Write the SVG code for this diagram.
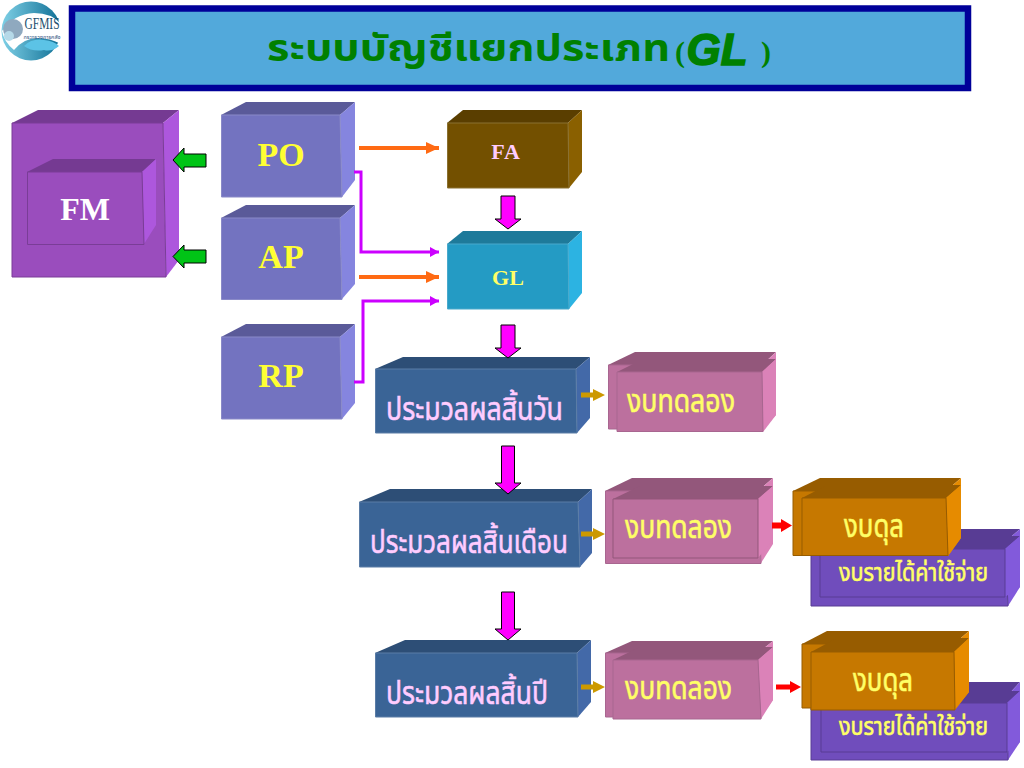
<svg xmlns="http://www.w3.org/2000/svg" width="1024" height="768" viewBox="0 0 1024 768">
<style>
text{font-family:"Liberation Serif","Noto Sans Thai","Noto Serif Thai","Noto Sans",serif;font-weight:700;text-anchor:middle}
.t{text-anchor:start;font-weight:400;stroke-width:.6}
.y{fill:#ffff33}.c{fill:#ffff66;stroke:#ffff66}.p{fill:#ffccff}.tp{stroke:#ffccff}
.vf{fill:#9a4dbd;stroke:#7a3d97}.vt{fill:#753a92}.vs{fill:#ad57dd}
.bf{fill:#7373c0;stroke:#8a8ac8}.bt{fill:#5a5a99}.bs{fill:#8585df}
.ff{fill:#735000;stroke:#8a7030}.ft{fill:#5a3e00}.fs{fill:#8a6000}
.gf{fill:#249bc4;stroke:#49a9cc}.gt{fill:#1e7a9a}.gs{fill:#2cb3e2}
.df{fill:#3a6496;stroke:#5a7ca6}.dt{fill:#2d4e76}.ds{fill:#4369a8}
.pf{fill:#bc709e;stroke:#a86690}.pn{fill:#bc709e;stroke:#93577b}.pt{fill:#93577b}.ps{fill:#db82b8}
.of{fill:#c67800;stroke:#975c00}.ot{fill:#975c00}.os{fill:#e68b00}
.uf{fill:#704dbc;stroke:#583c94}.ut{fill:#583c94}.us{fill:#825adb}
.mg{fill:#ff00ff;stroke:#000;stroke-width:1}
.gr{fill:#00c416;stroke:#000;stroke-width:1}
.ln{fill:none;stroke-width:4}
.lm{fill:none;stroke-width:3}
</style>
<defs>
<marker id="ao" markerUnits="userSpaceOnUse" markerWidth="14" markerHeight="14" refX="13" refY="6" orient="auto"><path d="M0 0L13 6L0 12Z" fill="#ff6a13"/></marker>
<marker id="am" markerUnits="userSpaceOnUse" markerWidth="12" markerHeight="12" refX="9" refY="5" orient="auto"><path d="M0 0L9 5L0 10Z" fill="#cc00ff"/></marker>
<linearGradient id="lg" x1="0" y1="0" x2="1" y2="0"><stop offset="0" stop-color="#7fd0e6"/><stop offset="1" stop-color="#0f6f95"/></linearGradient>
</defs>
<rect width="1024" height="768" fill="#fff"/>

<g id="logo">
<circle cx="31" cy="31" r="29.500" fill="url(#lg)"/>
<path d="M2 31Q14 14 34 13Q52 13 61 24V44Q50 38 38 38Q24 38 14 50Q4 42 2 31Z" fill="#fff"/>
<path d="M24 46Q32 38 44 40Q54 41 59 46Q52 52 44 50Q32 52 24 46Z" fill="#5cc3e6"/>
<circle cx="13" cy="29" r="10" fill="#8fa9bf"/>
<circle cx="9" cy="36" r="5" fill="#b5d9e8"/>
<text x="42" y="29" font-size="16" textLength="35" lengthAdjust="spacingAndGlyphs" fill="#1c4f6e" style="font-weight:400">GFMIS</text>
<text x="42" y="39" font-size="6" textLength="37" lengthAdjust="spacingAndGlyphs" fill="#2c4f7e" style="font-weight:400">กระทรวงการคลัง</text>
</g>

<g id="title">
<rect x="72" y="8.500" width="896" height="79.500" fill="#52a9db" stroke="#000099" stroke-width="6.500"/>
<text x="267" y="61" font-size="37" fill="#008000" class="t" style="font-weight:700" textLength="403" lengthAdjust="spacingAndGlyphs">ระบบบัญชีแยกประเภท</text>
<text x="680" y="62" font-size="30" fill="#008000">(</text>
<text x="717" y="65" font-size="44" fill="#008000" stroke="#008000" stroke-width="1.500" font-style="italic" style="font-family:'Liberation Sans',sans-serif">GL</text>
<text x="766" y="62" font-size="30" fill="#008000">)</text>
</g>

<g id="fm">
<polygon class="vt" points="12,123 38,110 179,110 163,123"/><polygon class="vs" points="163,123 179,110 179,260 166,277"/><polygon class="vf" points="12,123 163,123 166,277 12,277"/>
<polygon class="vt" points="27,172 53,159 156,159 142,172"/><polygon class="vs" points="142,172 156,159 156,225 144,244"/><polygon class="vf" points="27.500,172 142,172 144,244.500 27.500,244.500"/>
<text x="85" y="220" font-size="32" fill="#fff">FM</text>
</g>
<g id="po">
<polygon class="bt" points="221,115 246,102 355,102 340,115"/><polygon class="bs" points="340,115 355,102 355,180 342,197"/><polygon class="bf" points="221.500,115 340,115 342,197 221.500,197"/>
<text x="281" y="166" font-size="34" class="y">PO</text>
</g>
<g id="ap">
<polygon class="bt" points="221,218 246,205 355,205 340,218"/><polygon class="bs" points="340,218 355,205 355,284 342,299"/><polygon class="bf" points="221.500,218 340,218 342,299.500 221.500,299.500"/>
<text x="281" y="268" font-size="34" class="y">AP</text>
</g>
<g id="rp">
<polygon class="bt" points="221,337 246,324 355,324 340,337"/><polygon class="bs" points="340,337 355,324 355,403 342,419"/><polygon class="bf" points="221.500,337 340,337 342,419 221.500,419"/>
<text x="281" y="387" font-size="34" class="y">RP</text>
</g>
<g id="fa">
<polygon class="ft" points="447,123 463,110 582,110 568,123"/><polygon class="fs" points="568,123 582,110 582,172 569,188"/><polygon class="ff" points="447.500,123 568,123 569,188 447.500,188"/>
<text x="506" y="159" font-size="22" class="p" letter-spacing="1">FA</text>
</g>
<g id="gl">
<polygon class="gt" points="447,244 463,231 582,231 568,244"/><polygon class="gs" points="568,244 582,231 582,293 569,309"/><polygon class="gf" points="447.500,244 568,244 569,309 447.500,309"/>
<text x="508" y="285" font-size="22" fill="#ffff66">GL</text>
</g>
<g id="proc-day">
<polygon class="dt" points="375,369 403,357 590,357 576,369"/><polygon class="ds" points="576,369 590,357 590,418 577,433"/><polygon class="df" points="375.500,369 576,369 577,433 375.500,433"/>
<text x="386" y="420" font-size="32" class="t p tp" textLength="177" lengthAdjust="spacingAndGlyphs">ประมวลผลสิ้นวัน</text>
</g>
<g id="proc-month">
<polygon class="dt" points="359,502 390,489 592,489 578,502"/><polygon class="ds" points="578,502 592,489 592,553 580,567"/><polygon class="df" points="359.500,502 578,502 580,567 359.500,567"/>
<text x="370" y="553" font-size="32" class="t p tp" textLength="198" lengthAdjust="spacingAndGlyphs">ประมวลผลสิ้นเดือน</text>
</g>
<g id="proc-year">
<polygon class="dt" points="375,653 405,640 591,640 577,653"/><polygon class="ds" points="577,653 591,640 591,702 578,717"/><polygon class="df" points="375.500,653 577,653 578,717 375.500,717"/>
<text x="386" y="704" font-size="32" class="t p tp" textLength="162" lengthAdjust="spacingAndGlyphs">ประมวลผลสิ้นปี</text>
</g>
<g id="tb1">
<polygon class="pt" points="608,365 635,352 776,352 762,365"/><polygon class="ps" points="762,365 776,352 776,415 763,429"/><polygon class="pf" points="608.500,365 762,365 763,429 608.500,429"/>
<polygon class="pt" points="617,372 643,359 776,359 762,372"/><polygon class="ps" points="762,372 776,359 776,415 763,432"/><polygon class="pf" points="617,372 762,372 763,431.500 617,431.500"/>
<text x="627" y="412" font-size="32" class="t c" textLength="108" lengthAdjust="spacingAndGlyphs">งบทดลอง</text>
</g>
<g id="tb2">
<polygon class="pt" points="605,491 632,478 773,478 758,491"/><polygon class="ps" points="758,491 773,478 773,544 761,563"/><polygon class="pf" points="605.500,491 758,491 761,563.500 605.500,563.500"/>
<polygon class="pt" points="613,499 640,486 773,486 758,499"/><polygon class="ps" points="758,499 773,486 773,540 758,558"/><polygon class="pn" points="613,499 758,499 758,558 613,558"/>
<text x="625" y="538" font-size="32" class="t c" textLength="107" lengthAdjust="spacingAndGlyphs">งบทดลอง</text>
</g>
<g id="tb3">
<polygon class="pt" points="605,653 632,641 773,641 758,653"/><polygon class="ps" points="758,653 773,641 773,700 761,717"/><polygon class="pf" points="605.500,653 758,653 761,717 605.500,717"/>
<polygon class="pt" points="613,660 640,647 773,647 758,660"/><polygon class="ps" points="758,660 773,647 773,700 761,719"/><polygon class="pf" points="613,660 758,660 761,719 613,719"/>
<text x="625" y="699" font-size="32" class="t c" textLength="107" lengthAdjust="spacingAndGlyphs">งบทดลอง</text>
</g>
<g id="ie2">
<polygon class="ut" points="811,542 838,529 1020,529 1005,542"/><polygon class="us" points="1005,542 1020,529 1020,587 1008,606"/><polygon class="uf" points="811,542 1005,542 1008,606 811,606"/>
<polygon class="ut" points="820,549 846,536 1020,536 1005,549"/><polygon class="us" points="1005,549 1020,536 1020,587 1005,597"/><polygon class="uf" points="820,549 1005,549 1005,597 820,597"/>
<text x="839" y="581" font-size="24" class="t c" textLength="149" lengthAdjust="spacingAndGlyphs">งบรายได้ค่าใช้จ่าย</text>
</g>
<g id="bs2">
<polygon class="ot" points="793,491 820,478 961,478 946,491"/><polygon class="os" points="946,491 961,478 961,538 948,556"/><polygon class="of" points="793,491 946,491 948,555.500 793,555.500"/>
<polygon class="ot" points="802,498 827,485 961,485 946,498"/><polygon class="os" points="946,498 961,485 961,538 948,556"/><polygon class="of" points="802,498 946,498 948,555.500 802,555.500"/>
<text x="844" y="537" font-size="32" class="t c" textLength="60" lengthAdjust="spacingAndGlyphs">งบดุล</text>
</g>
<g id="ie3">
<polygon class="ut" points="811,696 838,682 1020,682 1007,696"/><polygon class="us" points="1007,696 1020,682 1020,742 1008,760"/><polygon class="uf" points="811,696 1007,696 1008,760 811,760"/>
<polygon class="ut" points="821,703 848,691 1020,691 1007,703"/><polygon class="us" points="1007,703 1020,691 1020,742 1007,752"/><polygon class="uf" points="821,703 1007,703 1007,752 821,752"/>
<text x="839" y="735" font-size="24" class="t c" textLength="149" lengthAdjust="spacingAndGlyphs">งบรายได้ค่าใช้จ่าย</text>
</g>
<g id="bs3">
<polygon class="ot" points="802,644 827,631 969,631 954,644"/><polygon class="os" points="954,644 969,631 969,692 956,708"/><polygon class="of" points="802,644 954,644 956,708 802,708"/>
<polygon class="ot" points="811,652 837,638 969,638 954,652"/><polygon class="os" points="954,652 969,638 969,692 955,710"/><polygon class="of" points="811,652 954,652 955,710 811,710"/>
<text x="853" y="691" font-size="32" class="t c" textLength="60" lengthAdjust="spacingAndGlyphs">งบดุล</text>
</g>

<g id="connectors">
<path class="ln" d="M359 148H439" stroke="#ff6a13" marker-end="url(#ao)"/>
<path class="lm" d="M354 172H361V252H439" stroke="#cc00ff" marker-end="url(#am)"/>
<path class="ln" d="M359 277H439" stroke="#ff6a13" marker-end="url(#ao)"/>
<path class="lm" d="M354 382H363V301H439" stroke="#cc00ff" marker-end="url(#am)"/>
<path class="gr" d="M206 154V167H184V172L173 160L184 148V154Z"/>
<path class="gr" d="M206 250V263H184V268L173 256.500L184 245V250Z"/>
<path class="mg" d="M501 196H515V219H521L508 229L495 219H501Z"/>
<path class="mg" d="M501 325H515V348H521L508 358L495 348H501Z"/>
<path class="mg" d="M501.500 446H514.500V483H521L508 494L495 483H501.500Z"/>
<path class="mg" d="M501.500 592H514.500V629H521L508 640L495 629H501.500Z"/>
<path d="M581 392.500H593V389L605 395L593 401V397.500H581Z" fill="#cc9900"/>
<path d="M581 531.500H593V528L605 534L593 540V536.500H581Z" fill="#cc9900"/>
<path d="M581 684.500H593V681L605 687L593 693V689.500H581Z" fill="#cc9900"/>
<path d="M772 522.500H781V519L792 525.500L781 532V528.500H772Z" fill="#ff0000"/>
<path d="M776 684.500H790V681L801 687L790 693V689.500H776Z" fill="#ff0000"/>
</g>
</svg>
